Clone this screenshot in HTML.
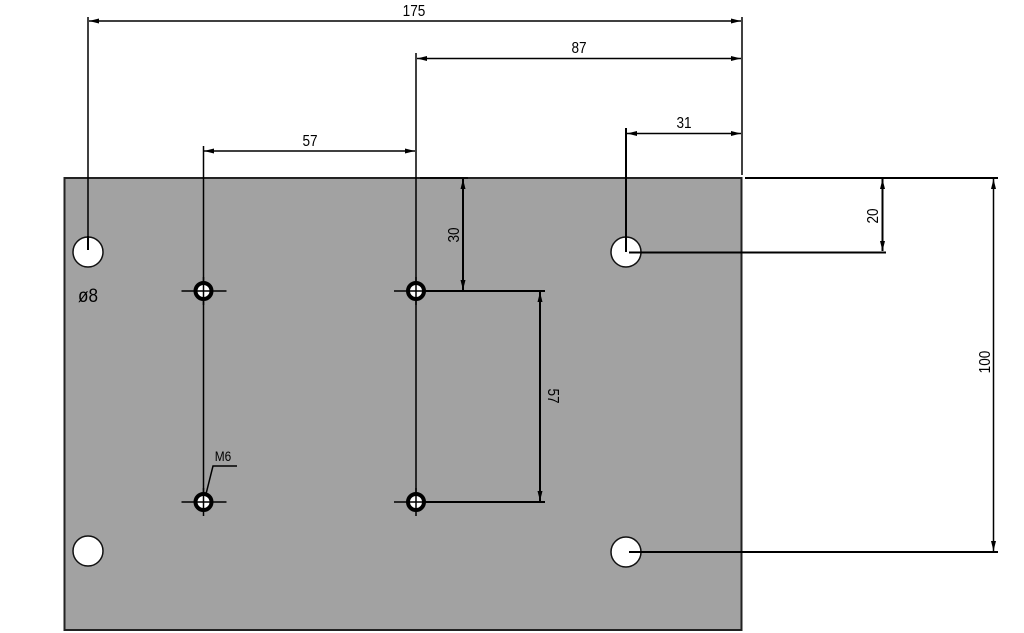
<!DOCTYPE html>
<html><head><meta charset="utf-8"><style>html,body{margin:0;padding:0;background:#fff;}svg{display:block}</style></head>
<body>
<svg width="1024" height="633" viewBox="0 0 1024 633" xmlns="http://www.w3.org/2000/svg" font-family="'Liberation Sans', sans-serif">
<defs>
<marker id="a" viewBox="0 0 10 6" refX="10" refY="3" markerWidth="10" markerHeight="6" orient="auto-start-reverse" markerUnits="userSpaceOnUse"><path d="M0,0.5 L10,3 L0,5.5z" fill="#000"/></marker>
</defs>
<rect x="64.5" y="178" width="677" height="452" fill="#a2a2a2" stroke="#222" stroke-width="2"/>
<g stroke="#000" fill="none" stroke-width="1.5">
<line x1="88" y1="17" x2="88" y2="250"/>
<line x1="742" y1="17" x2="742" y2="175"/>
<line x1="89" y1="21" x2="741" y2="21" marker-start="url(#a)" marker-end="url(#a)"/>
<line x1="416" y1="53" x2="416" y2="502"/>
<line x1="417" y1="58.5" x2="741" y2="58.5" marker-start="url(#a)" marker-end="url(#a)"/>
<line x1="203.5" y1="146" x2="203.5" y2="502"/>
<line x1="204" y1="151" x2="415" y2="151" marker-start="url(#a)" marker-end="url(#a)"/>
<line x1="626" y1="128" x2="626" y2="252" stroke-width="2"/>
<line x1="627" y1="133.5" x2="741" y2="133.5" marker-start="url(#a)" marker-end="url(#a)"/>
<line x1="420" y1="178" x2="468" y2="178"/>
<line x1="463" y1="179" x2="463" y2="290" marker-start="url(#a)" marker-end="url(#a)" stroke-width="2"/>
<line x1="416" y1="291" x2="545" y2="291" stroke-width="2"/>
<line x1="416" y1="502" x2="545" y2="502" stroke-width="2"/>
<line x1="540" y1="292" x2="540" y2="501" marker-start="url(#a)" marker-end="url(#a)" stroke-width="2"/>
<line x1="745" y1="178" x2="998" y2="178" stroke-width="2"/>
<line x1="626" y1="252.5" x2="886" y2="252.5" stroke-width="2"/>
<line x1="882.5" y1="179" x2="882.5" y2="251" marker-start="url(#a)" marker-end="url(#a)" stroke-width="2"/>
<line x1="626" y1="552" x2="998" y2="552" stroke-width="2"/>
<line x1="993.5" y1="179" x2="993.5" y2="551" marker-start="url(#a)" marker-end="url(#a)"/>
<polyline points="237,466 213,466 206,494"/>
</g>
<g fill="#fff" stroke="#111" stroke-width="1.5">
<circle cx="88" cy="252" r="15"/>
<circle cx="88" cy="551" r="15"/>
<circle cx="626" cy="252" r="15"/>
<circle cx="626" cy="552" r="15"/>
</g>
<g stroke="#000" stroke-width="2"><line x1="88" y1="236" x2="88" y2="250"/><line x1="626" y1="236" x2="626" y2="252"/><line x1="629" y1="252.5" x2="645" y2="252.5"/><line x1="629" y1="552" x2="645" y2="552"/></g>
<g>
<g transform="translate(203.5,291)"><circle r="8" fill="#fff" stroke="#000" stroke-width="4"/><line x1="-22" y1="0" x2="23" y2="0" stroke="#000" stroke-width="1.5"/><line x1="0" y1="-14" x2="0" y2="14" stroke="#000" stroke-width="1.5"/></g>
<g transform="translate(203.5,502)"><circle r="8" fill="#fff" stroke="#000" stroke-width="4"/><line x1="-22" y1="0" x2="23" y2="0" stroke="#000" stroke-width="1.5"/><line x1="0" y1="-14" x2="0" y2="14" stroke="#000" stroke-width="1.5"/></g>
<g transform="translate(416,291)"><circle r="8" fill="#fff" stroke="#000" stroke-width="4"/><line x1="-22" y1="0" x2="23" y2="0" stroke="#000" stroke-width="1.5"/><line x1="0" y1="-14" x2="0" y2="14" stroke="#000" stroke-width="1.5"/></g>
<g transform="translate(416,502)"><circle r="8" fill="#fff" stroke="#000" stroke-width="4"/><line x1="-22" y1="0" x2="23" y2="0" stroke="#000" stroke-width="1.5"/><line x1="0" y1="-14" x2="0" y2="14" stroke="#000" stroke-width="1.5"/></g>
</g>
<g font-size="16" fill="#000" text-anchor="middle">
<text transform="translate(414,16) scale(0.85,1)">175</text>
<text transform="translate(579,53) scale(0.85,1)">87</text>
<text transform="translate(310,146) scale(0.85,1)">57</text>
<text transform="translate(684,128) scale(0.85,1)">31</text>
<text transform="translate(88,302) scale(0.9,1)" font-size="19">ø8</text>
<text transform="translate(223,461) scale(0.85,1)" font-size="14">M6</text>
<text transform="translate(459,235) rotate(-90) scale(0.85,1)">30</text>
<text transform="translate(878,216) rotate(-90) scale(0.85,1)">20</text>
<text transform="translate(990,362) rotate(-90) scale(0.85,1)">100</text>
<text transform="translate(548,396) rotate(90) scale(0.85,1)">57</text>
</g>
</svg>
</body></html>
